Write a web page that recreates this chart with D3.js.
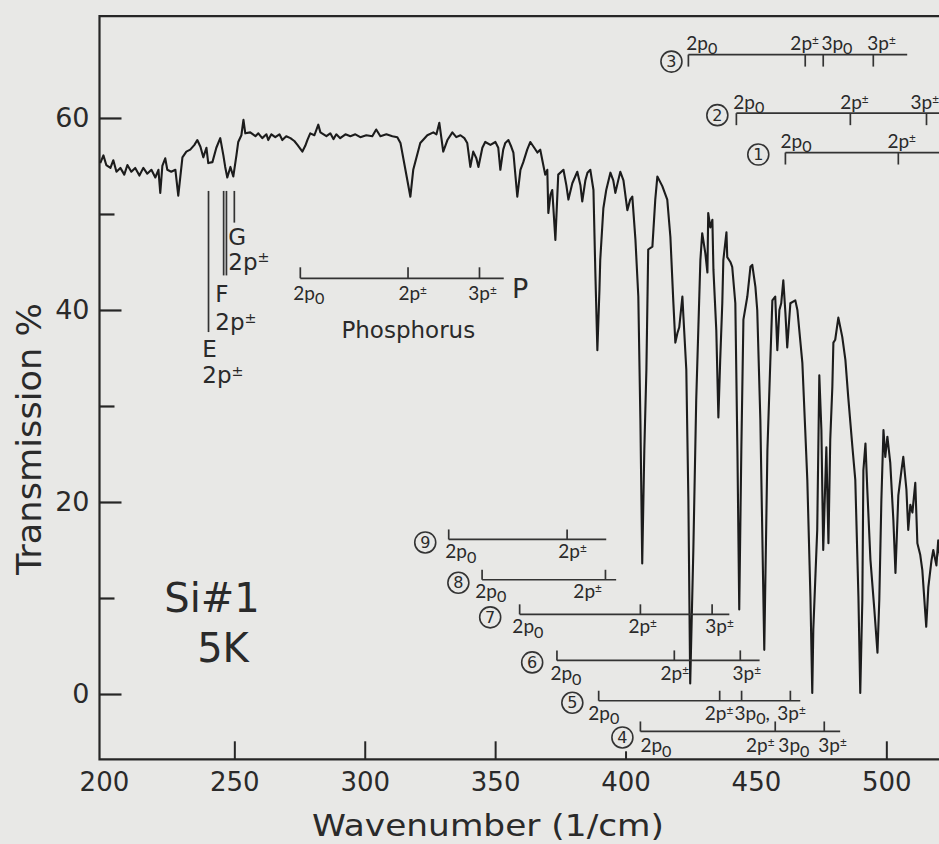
<!DOCTYPE html>
<html>
<head>
<meta charset="utf-8">
<script src="https://cdn.jsdelivr.net/npm/d3@7"></script>
<style>
  html, body { margin: 0; padding: 0; background: #e8e8e6; }
  svg { display: block; }
  text { font-family: "DejaVu Sans", "Noto Sans", sans-serif; fill: #2a2a2a; }
  .state text, text.state { font-family: Lato, "Noto Sans", sans-serif; }
</style>
</head>
<body>
<svg id="chart" width="939" height="844"></svg>
<script>
// Far-infrared transmission spectrum, Si sample #1 at 5 K
const wavenumber = [
  198.6,199.8,200.9,202.5,203.6,204.8,206.3,207.8,209.0,210.5,
  212.0,213.6,215.1,216.6,218.2,219.7,220.9,221.6,222.4,223.5,
  224.3,225.8,227.4,228.5,230.1,231.6,233.1,234.7,235.8,237.0,
  238.1,239.3,240.0,241.6,243.1,244.6,245.8,246.5,247.3,248.5,
  249.6,250.8,251.5,252.7,253.5,254.2,256.1,258.1,259.2,260.7,
  262.3,263.0,264.2,265.7,267.3,268.4,269.9,271.5,273.0,274.2,
  276.1,277.2,278.0,279.1,280.7,282.2,283.0,285.3,286.8,288.0,
  289.1,290.6,292.6,294.5,296.4,298.3,300.6,302.9,304.4,306.0,
  308.3,310.6,312.5,313.7,315.6,317.5,318.6,321.3,324.0,326.3,
  327.5,328.6,329.4,330.1,331.7,333.6,335.1,336.7,338.2,339.3,
  340.5,341.6,342.8,343.6,345.1,346.2,348.2,350.1,351.2,352.0,
  353.1,353.9,355.1,356.2,357.0,358.5,359.7,360.8,362.3,363.5,
  365.0,366.2,367.3,368.1,369.2,370.0,370.4,371.2,371.9,373.1,
  374.2,376.2,377.3,378.1,379.6,381.5,382.7,383.4,384.6,385.4,
  386.5,387.7,388.4,389.2,390.0,390.3,391.5,392.6,394.2,395.3,
  396.1,397.2,398.0,399.2,400.7,401.8,402.6,403.8,404.9,405.7,
  406.4,407.2,408.0,408.7,410.3,411.4,412.2,414.1,416.0,417.2,
  418.3,419.1,419.9,420.6,421.8,422.2,423.3,424.1,424.8,426.0,
  427.1,427.9,428.7,429.4,430.6,431.4,431.7,432.5,433.3,433.7,
  434.8,435.6,436.3,437.1,437.5,438.7,439.0,440.2,440.9,442.1,
  442.9,443.6,444.4,445.2,446.7,447.9,448.6,449.8,450.5,451.7,
  453.2,454.4,455.5,456.3,457.4,458.2,459.0,459.7,460.5,461.3,
  462.0,463.2,465.1,465.9,467.8,468.9,469.7,470.9,471.6,472.0,
  473.5,474.3,475.1,475.8,477.0,477.8,478.5,479.3,479.7,480.4,
  481.6,483.1,484.3,485.4,487.0,488.1,489.3,490.0,490.8,491.2,
  492.0,492.7,493.9,495.4,496.6,497.3,498.1,498.9,499.6,500.4,
  501.5,502.7,503.5,504.6,505.8,506.5,507.7,508.4,509.2,510.0,
  511.1,511.9,513.0,513.8,515.3,516.1,517.3,518.0,519.2,519.9,
  520.7
];
const transmission = [
  55.3,56.1,55.1,54.8,55.6,54.4,54.8,54.1,55.1,54.4,
  54.8,54.0,54.8,54.2,54.6,53.8,54.6,52.2,55.0,55.8,
  54.6,54.4,54.6,51.9,55.9,56.5,56.7,57.2,57.7,57.0,
  55.9,56.9,55.3,55.4,56.9,57.9,56.1,54.9,53.8,54.9,
  53.9,56.1,57.5,58.2,59.8,58.4,58.5,58.1,58.4,57.9,
  58.3,57.7,58.3,58.0,58.3,57.7,58.1,57.9,57.6,57.2,
  56.5,57.1,57.7,58.4,58.2,59.3,58.5,58.1,58.4,57.8,
  58.3,57.9,58.3,58.1,58.3,58.0,58.2,58.1,58.8,58.1,
  58.3,58.1,58.0,57.4,54.6,51.8,54.6,57.4,58.2,58.5,
  58.3,59.5,57.9,56.5,57.7,58.5,58.0,58.2,57.9,57.4,
  54.9,56.5,55.8,54.9,56.9,57.5,57.2,57.5,56.9,54.6,
  56.7,57.4,57.7,57.0,56.4,51.8,54.6,55.4,56.7,57.5,
  56.9,56.4,56.7,55.6,54.1,54.6,50.1,52.0,52.5,47.3,
  54.1,54.6,53.0,51.5,53.2,54.4,53.0,51.3,53.5,54.3,
  54.6,52.5,44.2,35.8,42.1,45.2,50.6,52.5,54.3,53.5,
  52.2,53.5,54.4,53.5,50.4,51.5,51.8,47.3,41.4,28.5,
  13.6,25.4,33.8,46.3,46.6,51.5,53.9,52.9,51.5,47.6,
  41.0,36.6,37.6,38.2,41.4,39.3,33.8,20.2,1.1,15.0,
  30.6,37.9,45.2,48.0,45.9,43.9,50.1,48.6,49.4,44.2,
  37.9,28.8,34.8,40.7,45.2,48.1,45.5,45.0,44.5,40.7,
  25.4,8.8,25.4,39.0,41.4,44.5,44.7,42.4,40.0,28.5,
  4.6,25.4,34.5,41.0,41.4,35.8,40.0,40.7,43.1,39.7,
  36.1,40.7,41.0,40.0,34.5,27.5,22.3,10.1,0.1,6.7,
  17.1,33.2,27.5,15.0,25.7,15.7,26.5,32.0,36.6,36.9,
  39.2,37.2,34.8,30.9,25.7,22.3,10.1,0.1,9.8,23.3,
  26.1,21.3,14.0,8.8,4.3,9.8,20.2,27.5,24.7,26.8,
  24.1,18.1,12.6,20.7,23.3,24.7,21.3,17.1,19.7,18.9,
  22.0,15.7,14.5,12.9,7.0,11.1,13.9,15.0,13.4,16.0,
  14.0
];

// Axis ticks
const xTickValues = [200, 250, 300, 350, 400, 450, 500];
const yTickValues = [0, 20, 40, 60];
const yMinorTickValues = [10, 30, 50];

// Donor series ①–⑨: line positions (cm^-1) and their labels
const groupNo = [3, 2, 1, 9, 8, 7, 6, 5, 4];
const groupLevels = [
  [424.1, 468.9, 475.8, 495.0],
  [442.5, 486.2, 515.4],
  [461.3, 504.6],
  [332.2, 377.6],
  [345.0, 392.3],
  [359.4, 405.7, 433.2],
  [373.7, 418.7, 444.0],
  [389.7, 436.1, 444.5, 463.2],
  [405.7, 457.4, 476.2]
];
const groupEnd = [508.0, 530, 530, 392.6, 396.4, 439.8, 451.4, 467.0, 482.3];
const groupLabels = [
  [["2p0", 423.3], ["2p±", 463.2], ["3p0", 475.1], ["3p±", 492.7]],
  [["2p0", 441.3], ["2p±", 482.3], ["3p±", 509.3]],
  [["2p0", 459.4], ["2p±", 500.4]],
  [["2p0", 330.9], ["2p±", 374.2]],
  [["2p0", 342.4], ["2p±", 380.0]],
  [["2p0", 356.6], ["2p±", 401.1], ["3p±", 430.6]],
  [["2p0", 371.2], ["2p±", 413.4], ["3p±", 441.0]],
  [["2p0", 385.7], ["2p±", 430.4], ["3p0,", 441.8], ["3p±", 458.2]],
  [["2p0", 405.7], ["2p±", 446.2], ["3p0", 458.6], ["3p±", 473.9]]
];

// Phosphorus series
const phosLevels = [275.3, 316.6, 344.0];
const phosEnd = 353.3;
const phosLabels = [["2p0", 272.6], ["2p±", 312.9], ["3p±", 339.7]];

// E, F, G 2p± lines
const efgNames = ["E", "F", "G"];
const efgLevels = [240.1, 245.9, 250.0];

// ---- layout ----
const groupRowT = [66.6, 60.5, 56.4, 16.1, 11.9, 8.3, 3.5, -0.7, -3.9];
const groupBadgeV = [417.6, 435.2, 450.9, 323.2, 335.9, 348.1, 364.2, 379.6, 398.8];
const groupBadgeDy = [7, 2, 2, 3, 3, 3, 2, 2, 6];
const groupLabelDy = [-4.5, -4.5, -4.5, 19, 18, 19, 20, 19, 21];
const phosRowT = 43.3;
const efgTopT = 52.4;
const efgBottomT = [37.7, 43.6, 49.1];
const efgLabelV = [237.7, 242.7, 247.7];
const efgLetterT = [35.1, 40.8, 46.8];
const efgStateT = [32.4, 37.9, 44.2];

const svg = d3.select("#chart");
const ink = "#262626";

const x = d3.scaleLinear().domain([198.3, 522]).range([99.5, 99.5 + 323.7 * 2.608]);
const y = d3.scaleLinear().domain([-6.8, 70.6]).range([759.3, 16.2]);
const [x0] = x.range();
const [yB, yT] = y.range();

// frame
svg.append("path")
  .attr("d", `M939,${yT}H${x0}V${yB}H939`)
  .attr("fill", "none").attr("stroke", ink).attr("stroke-width", 2.2);

// y axis (ticks point inward)
const gy = svg.append("g").attr("transform", `translate(${x0},0)`)
  .call(d3.axisLeft(y).tickValues(yTickValues).tickSizeInner(-22).tickSizeOuter(0).tickPadding(10));
gy.select(".domain").remove();
gy.selectAll(".tick line").attr("stroke", ink).attr("stroke-width", 2.2);
gy.selectAll(".tick text").attr("font-size", 27).attr("font-family", "DejaVu Sans").attr("fill", ink);
const gyMinor = svg.append("g").attr("transform", `translate(${x0},0)`)
  .call(d3.axisLeft(y).tickValues(yMinorTickValues).tickSizeInner(-15).tickSizeOuter(0).tickFormat(""));
gyMinor.select(".domain").remove();
gyMinor.selectAll(".tick line").attr("stroke", ink).attr("stroke-width", 2.2);

// x axis (ticks point inward; the 200 tick coincides with the frame)
const gx = svg.append("g").attr("transform", `translate(0,${yB})`)
  .call(d3.axisBottom(x).tickValues(xTickValues).tickSizeInner(-18).tickSizeOuter(0).tickPadding(13));
gx.select(".domain").remove();
gx.selectAll(".tick line").attr("stroke", ink).attr("stroke-width", 2)
  .attr("y2", d => d === 400 ? -8 : (d === 450 || d === 200) ? 0 : -18);
gx.selectAll(".tick text").attr("font-size", 26).attr("font-family", "DejaVu Sans").attr("fill", ink);

// axis titles
svg.append("text")
  .attr("x", 488).attr("y", 836).attr("text-anchor", "middle")
  .attr("font-size", 31).attr("textLength", 352).attr("lengthAdjust", "spacingAndGlyphs")
  .text("Wavenumber (1/cm)");
svg.append("text")
  .attr("transform", "translate(41,439) rotate(-90)").attr("text-anchor", "middle")
  .attr("font-size", 34).attr("textLength", 272).attr("lengthAdjust", "spacingAndGlyphs")
  .text("Transmission %");

// spectrum
const pts = wavenumber.map((v, i) => [v, transmission[i]]);
svg.append("path")
  .datum(pts)
  .attr("fill", "none").attr("stroke", "#1c1c1c").attr("stroke-width", 2.1)
  .attr("stroke-linejoin", "round")
  .attr("d", d3.line().x(d => x(d[0])).y(d => y(d[1])));

// state label with p0 subscript / p± superscript
function rich(g, str, fs, px, py, cls) {
  const t = g.append("text").attr("x", px).attr("y", py).attr("font-size", fs);
  if (cls) t.attr("class", cls);
  let shift = 0;
  const put = (s, target, scale) => {
    const sp = t.append("tspan").text(s).attr("dy", target - shift);
    if (scale) sp.attr("font-size", fs * scale);
    shift = target;
  };
  for (let i = 0; i < str.length; i++) {
    const c = str[i];
    if (c === "0" && str[i - 1] === "p") put("0", fs * 0.22, 0.85);
    else if (c === "±" && str[i - 1] === "p") put("±", -fs * 0.32, 0.62);
    else put(c, 0, null);
  }
  return t;
}

const lineInk = "#333";
const ann = svg.append("g");

// donor series brackets
groupNo.forEach((n, gi) => {
  const ry = y(groupRowT[gi]);
  const above = groupLabelDy[gi] < 0;
  const lv = groupLevels[gi];
  ann.append("line")
    .attr("x1", x(lv[0])).attr("x2", Math.min(x(groupEnd[gi]), 945))
    .attr("y1", ry).attr("y2", ry)
    .attr("stroke", lineInk).attr("stroke-width", 1.7);
  lv.forEach(v => {
    ann.append("line")
      .attr("x1", x(v)).attr("x2", x(v))
      .attr("y1", ry).attr("y2", above ? ry + 12 : ry - 10)
      .attr("stroke", lineInk).attr("stroke-width", 1.7);
  });
  groupLabels[gi].forEach(([s, v]) => rich(ann, s, 19, x(v), ry + groupLabelDy[gi], "state"));
  const cx = x(groupBadgeV[gi]), cy = ry + groupBadgeDy[gi];
  ann.append("circle").attr("cx", cx).attr("cy", cy).attr("r", 10.5)
    .attr("fill", "none").attr("stroke", lineInk).attr("stroke-width", 1.6);
  ann.append("text").attr("x", cx).attr("y", cy + 5.5).attr("text-anchor", "middle")
    .attr("font-size", 16).text(n);
});

// phosphorus bracket
const py = y(phosRowT);
ann.append("line").attr("x1", x(phosLevels[0])).attr("x2", x(phosEnd))
  .attr("y1", py).attr("y2", py).attr("stroke", lineInk).attr("stroke-width", 1.7);
phosLevels.forEach(v => {
  ann.append("line").attr("x1", x(v)).attr("x2", x(v))
    .attr("y1", py).attr("y2", py - 11).attr("stroke", lineInk).attr("stroke-width", 1.7);
});
phosLabels.forEach(([s, v]) => rich(ann, s, 19, x(v), py + 22, "state"));
ann.append("text").attr("x", x(356.5)).attr("y", y(41.3)).attr("font-size", 27).text("P");
ann.append("text").attr("x", x(316.7)).attr("y", y(37.1)).attr("text-anchor", "middle")
  .attr("font-size", 23).text("Phosphorus");

// E, F, G markers
efgNames.forEach((nm, i) => {
  const lx = x(efgLevels[i]);
  ann.append("line").attr("x1", lx).attr("x2", lx)
    .attr("y1", y(efgTopT)).attr("y2", y(efgBottomT[i]))
    .attr("stroke", lineInk).attr("stroke-width", 1.7);
  if (nm === "F") {
    ann.append("line").attr("x1", lx + 2.8).attr("x2", lx + 2.8)
      .attr("y1", y(efgTopT)).attr("y2", y(efgBottomT[i]))
      .attr("stroke", lineInk).attr("stroke-width", 1.7);
  }
  ann.append("text").attr("x", x(efgLabelV[i])).attr("y", y(efgLetterT[i]))
    .attr("font-size", 23).text(nm);
  rich(ann, "2p±", 23, x(efgLabelV[i]), y(efgStateT[i]));
});

// sample caption
svg.append("text").attr("x", 212).attr("y", 612).attr("text-anchor", "middle")
  .attr("font-size", 40).text("Si#1");
svg.append("text").attr("x", 223).attr("y", 662).attr("text-anchor", "middle")
  .attr("font-size", 40).text("5K");
</script>
</body>
</html>
